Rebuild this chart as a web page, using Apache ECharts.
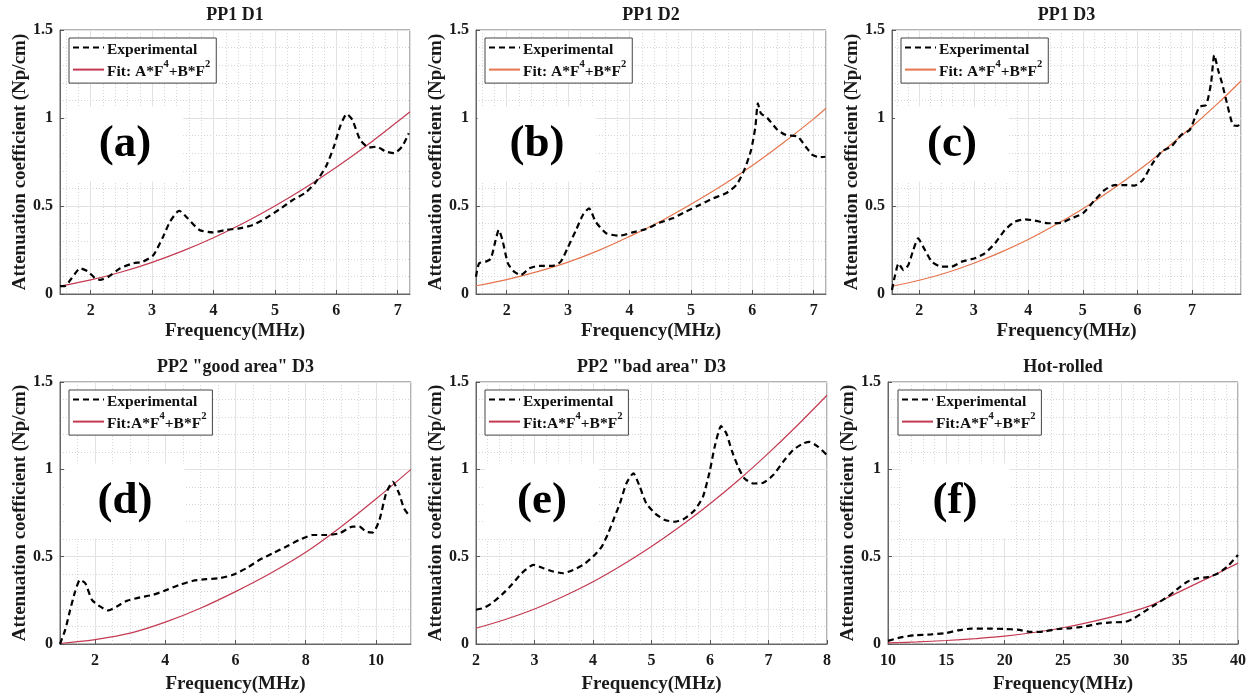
<!DOCTYPE html>
<html><head><meta charset="utf-8">
<script src="https://cdn.jsdelivr.net/npm/echarts@6/dist/echarts.min.js"></script>
<style>html,body{margin:0;padding:0;background:#fff}#c{width:1255px;height:695px}</style>
</head><body><div id="c"></div>
<script>
// ---------------- DATA ----------------
// (a) PP1 D1
const expFreqA = [1.5,1.58,1.69,1.83,1.96,2.07,2.15,2.29,2.48,2.69,2.85,3.02,3.18,3.29,3.44,3.58,3.77,3.99,4.2,4.42,4.64,4.85,5.07,5.29,5.5,5.66,5.83,5.96,6.07,6.17,6.26,6.39,6.53,6.66,6.8,6.94,7.07,7.18];
const expValA  = [0.045,0.045,0.09,0.146,0.127,0.09,0.08,0.098,0.146,0.174,0.184,0.22,0.326,0.41,0.473,0.43,0.364,0.35,0.364,0.373,0.392,0.43,0.48,0.534,0.576,0.633,0.723,0.837,0.96,1.023,0.99,0.875,0.833,0.837,0.81,0.8,0.837,0.913];
const fitFreqA = [1.5,2,2.5,3,3.5,4,4.5,5,5.5,6,6.5,7,7.2];
const fitValA  = [0.045,0.08,0.125,0.18,0.245,0.32,0.405,0.5,0.605,0.72,0.845,0.98,1.035];
// (b) PP1 D2
const expFreqB = [1.5,1.55,1.66,1.74,1.82,1.87,1.93,2.02,2.12,2.23,2.37,2.53,2.75,2.88,2.99,3.13,3.24,3.34,3.45,3.62,3.83,4.05,4.27,4.49,4.7,4.92,5.14,5.36,5.57,5.74,5.87,5.98,6.05,6.09,6.14,6.25,6.41,6.55,6.74,6.87,6.98,7.09,7.19];
const expValB  = [0.098,0.174,0.184,0.2,0.307,0.364,0.307,0.174,0.127,0.108,0.146,0.16,0.16,0.184,0.26,0.364,0.449,0.487,0.41,0.345,0.331,0.35,0.369,0.405,0.43,0.468,0.506,0.543,0.572,0.619,0.705,0.818,0.95,1.083,1.026,0.998,0.932,0.903,0.894,0.837,0.79,0.777,0.78];
const fitFreqB = [1.5,2,2.5,3,3.5,4,4.5,5,5.5,6,6.5,7,7.2];
const fitValB  = [0.047,0.082,0.127,0.181,0.248,0.327,0.412,0.51,0.615,0.73,0.858,0.995,1.055];
// (c) PP1 D3
const expFreqC = [1.5,1.55,1.62,1.71,1.8,1.89,1.98,2.07,2.23,2.41,2.59,2.78,3.02,3.2,3.39,3.57,3.75,3.94,4.12,4.36,4.61,4.79,5.0,5.22,5.4,5.58,5.77,5.95,6.1,6.26,6.44,6.62,6.8,6.96,7.05,7.14,7.26,7.35,7.41,7.48,7.55,7.63,7.75,7.84,7.9];
const expValC  = [0.023,0.098,0.174,0.136,0.165,0.25,0.316,0.269,0.184,0.155,0.155,0.184,0.203,0.231,0.288,0.364,0.41,0.424,0.417,0.402,0.405,0.43,0.458,0.534,0.591,0.619,0.619,0.616,0.648,0.733,0.809,0.837,0.903,0.932,0.998,1.064,1.074,1.197,1.358,1.273,1.2,1.1,0.96,0.955,0.974];
const fitFreqC = [1.5,2,2.5,3,3.5,4,4.5,5,5.5,6,6.5,7,7.5,7.9];
const fitValC  = [0.044,0.078,0.121,0.175,0.238,0.31,0.393,0.485,0.587,0.698,0.82,0.95,1.09,1.21];
// (d) PP2 "good area" D3
const expFreqD = [1.0,1.15,1.29,1.43,1.57,1.72,1.91,2.14,2.38,2.62,2.9,3.28,3.66,4.04,4.41,4.79,5.17,5.55,5.93,6.31,6.69,7.07,7.45,7.82,8.2,8.58,8.96,9.34,9.53,9.72,9.91,10.1,10.29,10.48,10.66,10.8,10.97];
const expValD  = [0,0.082,0.196,0.3,0.367,0.348,0.253,0.215,0.192,0.215,0.247,0.267,0.282,0.31,0.339,0.362,0.371,0.377,0.396,0.434,0.482,0.52,0.558,0.596,0.624,0.624,0.634,0.672,0.672,0.643,0.638,0.71,0.862,0.929,0.862,0.777,0.729];
const fitFreqD = [1,2,3,4,5,6,7,8,9,10,11];
const fitValD  = [0.003,0.025,0.062,0.125,0.205,0.3,0.405,0.525,0.67,0.83,1.0];
// (e) PP2 "bad area" D3
const expFreqE = [2.0,2.13,2.27,2.44,2.61,2.78,2.98,3.15,3.32,3.49,3.66,3.83,4.0,4.15,4.26,4.37,4.46,4.57,4.69,4.8,4.91,5.06,5.23,5.4,5.57,5.74,5.88,6.0,6.08,6.19,6.28,6.37,6.48,6.59,6.74,6.91,7.08,7.25,7.42,7.59,7.7,7.85,8.0];
const expValE  = [0.196,0.206,0.234,0.282,0.339,0.405,0.453,0.434,0.415,0.405,0.424,0.453,0.5,0.558,0.634,0.729,0.805,0.919,0.977,0.9,0.805,0.748,0.71,0.7,0.719,0.767,0.843,0.996,1.129,1.247,1.205,1.11,1.015,0.948,0.919,0.923,0.967,1.043,1.11,1.148,1.157,1.129,1.081];
const fitFreqE = [2,2.5,3,3.5,4,4.5,5,5.5,6,6.5,7,7.5,8];
const fitValE  = [0.09,0.14,0.2,0.273,0.356,0.452,0.558,0.675,0.803,0.942,1.093,1.254,1.424];
// (f) Hot-rolled
const expFreqF = [10,11.1,12.3,13.7,14.9,16,17.1,18.6,20,21.1,22.3,23.4,24.6,25.7,26.9,28,29.1,30.3,31.1,32,32.9,34,34.9,35.7,36.6,37.4,38.3,39.1,40];
const expValF  = [0.018,0.038,0.05,0.055,0.062,0.078,0.088,0.088,0.086,0.082,0.069,0.072,0.086,0.091,0.101,0.116,0.124,0.126,0.148,0.187,0.225,0.272,0.32,0.358,0.377,0.383,0.405,0.444,0.51];
const fitFreqF = [10,12.5,15,17.5,20,22.5,25,27.5,30,32.5,35,37.5,40];
const fitValF  = [0.006,0.012,0.02,0.031,0.045,0.066,0.093,0.128,0.17,0.22,0.3,0.38,0.463];

const panelTitles = ['PP1 D1','PP1 D2','PP1 D3','PP2 "good area" D3','PP2 "bad area" D3','Hot-rolled'];
const panelLetters = ['(a)','(b)','(c)','(d)','(e)','(f)'];
const xMins = [1.5,1.5,1.5,1,2,10];
const xMaxs = [7.2,7.2,7.9,11,8,40];
const yTickLabels = ['0','0.5','1','1.5'];
const expLegendText = 'Experimental';
const fitLegendTexts = ['{t|Fit: A*F}{s|4}{t|+B*F}{s|2}','{t|Fit: A*F}{s|4}{t|+B*F}{s|2}','{t|Fit: A*F}{s|4}{t|+B*F}{s|2}',
                        '{t|Fit:A*F}{s|4}{t|+B*F}{s|2}','{t|Fit:A*F}{s|4}{t|+B*F}{s|2}','{t|Fit:A*F}{s|4}{t|+B*F}{s|2}'];
const yName = 'Attenuation coefficient (Np/cm)';
const xName = 'Frequency(MHz)';

const expX = [expFreqA,expFreqB,expFreqC,expFreqD,expFreqE,expFreqF];
const expY = [expValA,expValB,expValC,expValD,expValE,expValF];
const fitX = [fitFreqA,fitFreqB,fitFreqC,fitFreqD,fitFreqE,fitFreqF];
const fitY = [fitValA,fitValB,fitValC,fitValD,fitValE,fitValF];

// ---------------- LAYOUT / STYLE ----------------
const FONT = "'Liberation Serif', 'Times New Roman', serif";
const layout = [
  {left:60,  top:30,  width:350, height:264},
  {left:476, top:30,  width:350, height:264},
  {left:892, top:30,  width:349, height:264},
  {left:60,  top:382, width:351, height:262},
  {left:476, top:382, width:351, height:262},
  {left:888, top:382, width:350, height:262}
];
const fitColors = ['#c33a52','#e6744c','#e6744c','#c33a52','#c33a52','#c33a52'];
const xInterval = [null,null,null,null,1,5];
const xMinorSplit = [5,5,5,4,5,5];
const hideEnds = [true,true,true,true,false,false];
const legendPos = [[69,38],[485,38],[901,38],[69,390],[485,390],[898,390]];
const letterPos = [[125,144],[537,144],[952,144],[125,501],[542,501],[955,501]];

function zip(xs, ys){ return xs.map((x,i)=>[x, ys[i]]); }

const grids=[], xAxes=[], yAxes=[], series=[], legends=[], graphics=[];
const nameMap = {};
for (let i=0;i<6;i++){
  const L = layout[i];
  grids.push({left:L.left, top:L.top, width:L.width, height:L.height, show:true, borderColor:'#666', borderWidth:1, backgroundColor:'transparent'});
  const xa = {
    type:'value', gridIndex:i, min:xMins[i], max:xMaxs[i], splitNumber:5,
    name:xName, nameLocation:'middle', nameGap: i<3 ? 28 : 31,
    nameTextStyle:{fontFamily:FONT, fontWeight:'bold', fontSize:19, color:'#1a1a1a'},
    axisLine:{show:true, onZero:false, lineStyle:{color:'#666', width:1}},
    axisTick:{show:true, inside:true, length:4, lineStyle:{color:'#555'}},
    axisLabel:{fontFamily:FONT, fontWeight:'bold', fontSize:16, color:'#1a1a1a', margin:9,
               showMinLabel:!hideEnds[i], showMaxLabel:!hideEnds[i]},
    splitLine:{show:true, lineStyle:{color:'#e2e2e2', width:1}},
    minorTick:{show:false, splitNumber:xMinorSplit[i]},
    minorSplitLine:{show:true, lineStyle:{color:'#d6d6d6', width:1, type:[1,2]}}
  };
  if (xInterval[i]) xa.interval = xInterval[i];
  xAxes.push(xa);
  yAxes.push({
    type:'value', gridIndex:i, min:0, max:1.5, interval:0.5,
    name:yName, nameLocation:'middle', nameGap:30,
    nameTextStyle:{fontFamily:FONT, fontWeight:'bold', fontSize:19, color:'#1a1a1a'},
    axisLine:{show:true, lineStyle:{color:'#666', width:1}},
    axisTick:{show:true, inside:true, length:4, lineStyle:{color:'#555'}},
    axisLabel:{fontFamily:FONT, fontWeight:'bold', fontSize:16, color:'#1a1a1a', margin:7,
               formatter:(v)=>yTickLabels[Math.round(v/0.5)] ?? ''},
    splitLine:{show:true, lineStyle:{color:'#e2e2e2', width:1}},
    minorTick:{show:false, splitNumber:5},
    minorSplitLine:{show:true, lineStyle:{color:'#d6d6d6', width:1, type:[1,2]}}
  });
  const expName = 'exp'+i, fitName = 'fit'+i;
  nameMap[expName] = '{t|'+expLegendText+'}';
  nameMap[fitName] = fitLegendTexts[i];
  series.push({
    name:expName, type:'line', xAxisIndex:i, yAxisIndex:i, data:zip(expX[i],expY[i]),
    showSymbol:false, symbol:'none', smooth:0.2, z:4,
    lineStyle:{color:'#000', width:2.2, type:[6,4]}, itemStyle:{color:'#000'}
  });
  series.push({
    name:fitName, type:'line', xAxisIndex:i, yAxisIndex:i, data:zip(fitX[i],fitY[i]),
    showSymbol:false, symbol:'none', smooth:0.35, z:3,
    lineStyle:{color:fitColors[i], width:1.2}, itemStyle:{color:fitColors[i]}
  });
  legends.push({
    data:[expName, fitName], left:legendPos[i][0], top:legendPos[i][1], orient:'vertical',
    backgroundColor:'#fff', borderColor:'#444', borderWidth:1, padding:[4,6,3,3],
    itemWidth:31, itemHeight:14, itemGap:1, selectedMode:false, z:20,
    itemStyle:{opacity:0},
    formatter:(n)=>nameMap[n],
    textStyle:{fontFamily:FONT, fontWeight:'bold', fontSize:15.5, color:'#111', padding:[0,0,0,-2],
      rich:{ t:{fontFamily:FONT, fontWeight:'bold', fontSize:15.5, color:'#111', lineHeight:21, verticalAlign:'bottom'},
             s:{fontFamily:FONT, fontWeight:'bold', fontSize:10.5, color:'#111', lineHeight:11, verticalAlign:'top'} } }
  });
  graphics.push({
    type:'text', x:L.left + L.width/2, y: L.top - 15, z:20,
    style:{text:panelTitles[i], font:'bold 18px '+FONT, fill:'#1a1a1a', align:'center', verticalAlign:'middle'}
  });
  graphics.push({
    type:'text', x:letterPos[i][0], y:letterPos[i][1], z:10,
    style:{text:panelLetters[i], font:'bold 45px '+FONT, fill:'#000', align:'center', verticalAlign:'middle',
           backgroundColor:'#fff', padding:[15,32,15,32]}
  });
}

const chart = echarts.init(document.getElementById('c'), null, {renderer:'canvas', width:1255, height:695});
chart.setOption({
  backgroundColor:'#fff',
  animation:false,
  grid:grids, xAxis:xAxes, yAxis:yAxes, series:series, legend:legends, graphic:graphics
});
</script></body></html>
